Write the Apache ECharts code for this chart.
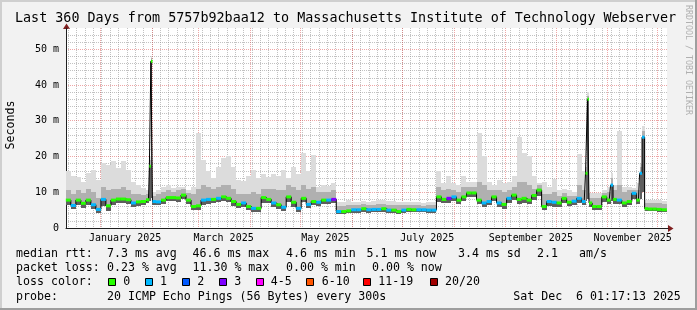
<!DOCTYPE html>
<html><head><meta charset="utf-8">
<script src="https://cdn.jsdelivr.net/npm/echarts@6/dist/echarts.min.js"></script>
<style>html,body{margin:0;padding:0;background:#f2f2f2}#c{width:697px;height:310px}</style>
</head><body><div id="c"></div>
<script>
// ---- axis / tick data (days relative to 1 Jan 2025) ----
const xMin = -20.4, xMax = 339.6;
const monthStarts = [0,31,59,90,120,151,181,212,243,273,304,334];
const labelDays = [15,74,135,196,258,319];
const labelNames = ['January 2025','March 2025','May 2025','July 2025','September 2025','November 2025'];
const yMax = 55.92;
const yMajor = [10,20,30,40,50];
const yLabels = [0,10,20,30,40,50];
const yMinor = [2,4,6,8,12,14,16,18,22,24,26,28,32,34,36,38,42,44,46,48,52,54];

// ---- series data ----
const days = [-19,-16,-13,-10,-7,-4,-1,2,5,8,11,14,17,20,23,26,29,30.1,30.8,32,35,38,41,44,47,50,53,56,59,62,65,68,71,74,77,80,83,86,89,92,95,98,101,104,107,110,113,116,119,122,125,128,131,134,137,140,143,146,149,152,155,158,161,164,167,170,173,176,179,182,185,188,191,194,197,200,203,206,209,212,215,218,221,224,227,230,233,236,239,242,245,248,251,254,257,260,263,266,269,272,275,278,281,284,287,290,291.6,292.3,293.5,296,299,302,305,306.6,308,311,314,317,320,322.5,323.9,325.4,327,329.5,332,335,338];
const median = [7.8,6.3,7.8,6.9,7.8,6.5,5.2,8.0,6.2,7.8,8.1,8.1,7.9,7.0,7.3,7.4,7.9,17.3,46.6,7.4,7.3,7.8,8.5,8.5,8.4,9.2,7.8,6.0,6.2,7.8,8.0,8.0,8.3,8.7,8.3,7.4,6.6,7.0,6.0,5.5,5.5,8.5,8.0,7.0,6.5,5.8,8.7,7.2,5.5,8.3,6.6,7.4,7.2,7.8,7.8,8.0,4.6,4.6,4.8,5.1,5.1,5.4,5.1,5.2,5.2,5.4,5.0,5.0,4.6,5.0,5.2,5.1,5.1,5.1,5.0,5.0,8.7,8.0,8.3,8.7,7.8,8.7,9.8,9.8,7.8,7.0,7.4,8.7,7.0,6.6,8.3,9.2,8.0,8.3,7.8,9.1,10.6,6.0,7.4,7.2,7.0,8.3,7.2,7.5,8.3,7.4,15.3,36,7.0,6.0,6.0,8.7,7.8,12,8.0,7.8,7.0,7.4,9.7,7.8,15.3,25.4,5.4,5.3,5.3,5.2,5.1];
const loss = [0,1,0,0,0,1,1,1,0,0,0,0,0,1,0,0,0,0,0,1,1,0,0,0,0,0,0,0,0,1,1,0,1,0,0,0,0,1,0,1,0,0,0,1,0,1,0,0,1,0,1,0,1,0,1,3,1,0,0,1,1,0,1,1,1,0,1,0,0,1,0,0,1,1,1,1,0,0,3,1,0,0,0,0,0,1,1,0,1,0,1,0,0,0,0,0,0,0,1,1,0,0,0,1,1,1,0,0,0,0,0,0,0,1,0,1,0,0,1,0,1,1,0,0,0,0,0];
const smokeLo = [6.3,5.2,6.4,5.6,6.5,5.2,4.2,6.2,4.8,6.5,7.0,7.0,6.8,5.9,6.2,6.4,6.9,7.5,8.5,6.5,6.4,6.8,7.5,7.5,7.4,8.0,6.8,5.0,5.0,6.5,6.8,7.0,7.2,7.6,7.2,6.2,5.5,5.8,4.9,4.5,4.5,7.0,6.9,5.9,5.4,4.8,7.4,6.0,4.5,7.2,5.6,6.4,6.2,6.8,6.8,6.9,4.0,4.0,4.1,4.3,4.3,4.6,4.3,4.4,4.4,4.6,4.3,4.3,4.0,4.3,4.4,4.4,4.4,4.4,4.3,4.3,7.2,6.9,7.1,7.5,6.7,7.6,8.6,8.6,6.7,5.9,6.3,7.5,5.9,5.4,7.0,7.9,6.8,7.0,6.6,7.8,9.0,5.0,6.2,6.0,5.9,7.0,6.1,6.3,7.0,6.3,7.5,8,6.0,5.1,5.1,7.4,6.7,7.5,6.8,6.7,5.9,6.3,8.2,6.6,8,10,4.8,4.7,4.7,4.6,4.5];
const smokeMid = [10.5,9.5,10.5,9.8,11,10,8.5,11.5,10.5,11,11,11.5,10.5,9.5,9.5,9.2,9.5,19,47.5,9.0,9.5,10,10.5,10.2,10.5,10.8,9.8,9.5,11,12,11.5,11,11.5,12,12,11,9.5,9.5,9.5,10,9.5,11,11,11,10.5,10.5,12,11.5,10.5,12,11,11.5,10,10,10,10.5,6.2,6.2,6.5,6.5,6.5,6.6,6.4,6.5,6.6,6.8,6.5,6.5,6.3,6.5,6.5,6.3,6.3,6.2,6.3,6.4,11.5,10.5,11,10.5,10,11.5,11.5,11.5,13,12,10.5,10.5,10.5,10,10.5,11.5,13,13,12,11,12,9.5,9.5,10,9,9.8,9,9,12,10.5,17,37,8.5,8.5,8.5,9.8,10,14,10.5,12,10,10.5,10.5,10.5,17,27,7,7,7,7,6.8];
const smokeMax = [15.8,14.5,14.2,12.9,15.5,16.2,13.4,18.3,17.6,18.6,16.7,18.6,16.2,12.9,12.0,11.1,10.6,20,48,10.1,10.6,11.6,12.0,11.1,11.6,11.6,10.6,11.6,26.5,19,15.8,13.9,17,19.5,20,17,13.5,13.2,14.5,16.2,14,15,14.2,15,14.5,16.2,14,17,15,21,16,20.5,11.5,12,11.8,12.5,7.2,7.4,7.8,7.4,7.4,7.6,7.4,7.6,7.8,7.8,7.5,7.6,7.2,7.4,7.4,7.2,7.4,7.0,7.2,7.4,16,12.5,14.5,12.5,12,14.5,13,12.8,26.5,20,13,12,13.5,12.5,13,14.4,25.5,21,20,14.4,12.5,12.8,11.5,13.7,10.6,11,10.5,10,20.8,16,18,38,9.7,9.7,9.7,10.6,11.6,15.3,12,27,11.6,11.6,11.2,12.5,18,28.5,7.8,7.8,7.8,7.8,7.6];

const lossColors = ['#26ff00','#00b8ff','#0059ff','#7e00ff','#ff00ff','#ff5500','#ff0000','#a10000'];
const lossLabels = ['0','1','2','3','4-5','6-10','11-19','20/20'];
const smokeColors = ['#dcdcdc','#b0b0b0','#5e5e5e'];

// legend texts
const statLines = [
  [['median rtt:',16],['7.3 ms avg',107],['46.6 ms max',192.5],['4.6 ms min',286],['5.1 ms now',366.5],['3.4 ms sd',458],['2.1',537],['am/s',579]],
  [['packet loss:',16],['0.23 % avg',107],['11.30 % max',192.5],['0.00 % min',286],['0.00 % now',372]],
  [['loss color:',16]],
  [['probe:',16],['20 ICMP Echo Pings (56 Bytes) every 300s',107],['Sat Dec  6 01:17:13 2025',513.3]]
];
const lineY = [254.3, 268.3, 282.3, 296.6];
const boxX = [108.5,145.5,182.5,219.5,256.5,306.5,363.5,430.5];
const boxTextX = [123.3,160,197.3,234.3,270.7,321.7,378.3,445];

const MONO = 'DejaVu Sans Mono';
const minorX = [];
for (let d = -19; d <= 339; d += 5) minorX.push(d);

const chart = echarts.init(document.getElementById('c'), null, {renderer:'canvas', width:697, height:310});

function edges(i){
  const d = days[i];
  const l = i>0 ? (days[i-1]+d)/2 : d-1.5;
  const r = i<days.length-1 ? (d+days[i+1])/2 : d+1.5;
  return [l, r];
}
const smokeData = days.map((d,i)=>{ const e = edges(i); return [d, smokeLo[i], smokeMid[i], smokeMax[i], median[i], e[0], e[1]]; });
const segData = days.map((d,i)=>{ const e = edges(i); return [d, median[i], loss[i], e[0], e[1]]; });

const graphics = [];
graphics.push({type:'rect', shape:{x:0,y:0,width:697,height:2}, style:{fill:'#cfcfcf'}, silent:true});
graphics.push({type:'rect', shape:{x:0,y:0,width:2,height:310}, style:{fill:'#cfcfcf'}, silent:true});
graphics.push({type:'rect', shape:{x:0,y:308,width:697,height:2}, style:{fill:'#9e9e9e'}, silent:true});
graphics.push({type:'rect', shape:{x:695,y:0,width:2,height:310}, style:{fill:'#9e9e9e'}, silent:true});
graphics.push({type:'text', x:15, y:19, silent:true, style:{text:'Last 360 Days from 5757b92baa12 to Massachusetts Institute of Technology Webserver', fill:'#000', fontFamily:MONO, fontSize:13.4, align:'left', verticalAlign:'middle', textAlign:'left', textVerticalAlign:'middle'}});
graphics.push({type:'text', x:688, y:5, rotation:-Math.PI/2, silent:true, style:{text:'RRDTOOL / TOBI OETIKER', fill:'#b0b0b0', fontFamily:MONO, fontSize:8.3, align:'left', verticalAlign:'middle', textAlign:'left', textVerticalAlign:'middle'}});
graphics.push({type:'text', x:10.5, y:125, rotation:Math.PI/2, silent:true, style:{text:'Seconds', fill:'#000', fontFamily:MONO, fontSize:11.6, align:'center', verticalAlign:'middle', textAlign:'center', textVerticalAlign:'middle'}});
graphics.push({type:'polygon', shape:{points:[[668,225],[673.5,228.5],[668,232]]}, style:{fill:'#801f1f'}, silent:true});
graphics.push({type:'polygon', shape:{points:[[63,29],[66.5,23.5],[70,29]]}, style:{fill:'#801f1f'}, silent:true});
graphics.push({type:'line', shape:{x1:667,y1:228.5,x2:668.5,y2:228.5}, style:{stroke:'#1f1f1f',lineWidth:1}, silent:true});
graphics.push({type:'line', shape:{x1:66.5,y1:28,x2:66.5,y2:29.5}, style:{stroke:'#1f1f1f',lineWidth:1}, silent:true});
statLines.forEach((line, li)=>{
  line.forEach(([t,x])=>{
    graphics.push({type:'text', x:x, y:lineY[li], silent:true, style:{text:t, fill:'#000', fontFamily:MONO, fontSize:11.6, align:'left', verticalAlign:'middle', textAlign:'left', textVerticalAlign:'middle'}});
  });
});
lossColors.forEach((c,i)=>{
  graphics.push({type:'rect', shape:{x:boxX[i], y:278.5, width:7, height:7}, style:{fill:c, stroke:'#000', lineWidth:1}, silent:true});
  graphics.push({type:'text', x:boxTextX[i], y:lineY[2], silent:true, style:{text:lossLabels[i], fill:'#000', fontFamily:MONO, fontSize:11.6, align:'left', verticalAlign:'middle', textAlign:'left', textVerticalAlign:'middle'}});
});

const gridLine = (color)=>({show:true, lineStyle:{color:color, width:1, type:[1,1]}});

const option = {
  animation:false,
  backgroundColor:'#f2f2f2',
  grid:{left:66, top:28, width:601, height:200, show:true, backgroundColor:'#ffffff', borderWidth:0, outerBoundsMode:'none', containLabel:false},
  xAxis:[
    {type:'value', min:xMin, max:xMax, position:'bottom', z:0,
     axisLine:{show:false}, axisTick:{show:false, customValues:minorX}, axisLabel:{show:false},
     splitLine:gridLine('rgba(143,143,143,0.55)')},
    {type:'value', min:xMin, max:xMax, position:'bottom', z:1,
     axisLine:{show:true, onZero:false, lineStyle:{color:'#1f1f1f', width:1}},
     axisTick:{show:false, customValues:monthStarts},
     axisLabel:{show:true, customValues:labelDays, formatter:(v)=>{const i=labelDays.indexOf(v);return i>=0?labelNames[i]:'';}, color:'#000', fontFamily:MONO, fontSize:10, margin:5, hideOverlap:false},
     splitLine:gridLine('rgba(222,79,79,0.5)')}
  ],
  yAxis:[
    {type:'value', min:0, max:yMax, position:'left', z:0,
     axisLine:{show:false}, axisTick:{show:false, customValues:yMinor}, axisLabel:{show:false},
     splitLine:gridLine('rgba(143,143,143,0.55)')},
    {type:'value', min:0, max:yMax, position:'left', z:1,
     axisLine:{show:true, onZero:false, lineStyle:{color:'#1f1f1f', width:1}},
     axisTick:{show:false, customValues:yMajor},
     axisLabel:{show:true, customValues:yLabels, formatter:(v)=> v===0 ? '0' : v+' m', color:'#000', fontFamily:MONO, fontSize:10, margin:7, hideOverlap:false},
     splitLine:gridLine('rgba(222,79,79,0.5)')}
  ],
  series:[
    {type:'custom', data:smokeData, encode:{x:0, y:[1,3]}, xAxisIndex:1, yAxisIndex:1, z:2, silent:true, clip:false,
     renderItem:(params, api)=>{
       const xl = Math.round(api.coord([api.value(5), 0])[0]);
       const xr = Math.round(api.coord([api.value(6), 0])[0]);
       const yLo = Math.round(api.coord([0, api.value(1)])[1]);
       const tops = [api.value(3), api.value(2), api.value(4)];
       return {type:'group', children: tops.map((t,k)=>{
         const yt = Math.round(api.coord([0, t])[1]);
         return {type:'rect', shape:{x:xl, y:yt, width:xr-xl, height:Math.max(0,yLo-yt)}, style:{fill:smokeColors[k]}};
       })};
     }},
    {type:'line', data:days.map((d,i)=>[d, median[i]]), step:'middle', symbol:'none', showSymbol:false, lineStyle:{color:'#000', width:1}, silent:true, xAxisIndex:1, yAxisIndex:1, z:4},
    {type:'custom', data:segData, encode:{x:0, y:1}, xAxisIndex:1, yAxisIndex:1, z:5, silent:true, clip:false,
     renderItem:(params, api)=>{
       const y = api.value(1);
       const p1 = api.coord([api.value(3), y]);
       const p2 = api.coord([api.value(4), y]);
       return {type:'line', shape:{x1:p1[0], y1:p1[1], x2:p2[0], y2:p2[1]}, style:{stroke:lossColors[api.value(2)], lineWidth:3, lineCap:'butt'}};
     }}
  ],
  graphic:graphics
};
chart.setOption(option);
</script>
</body></html>
